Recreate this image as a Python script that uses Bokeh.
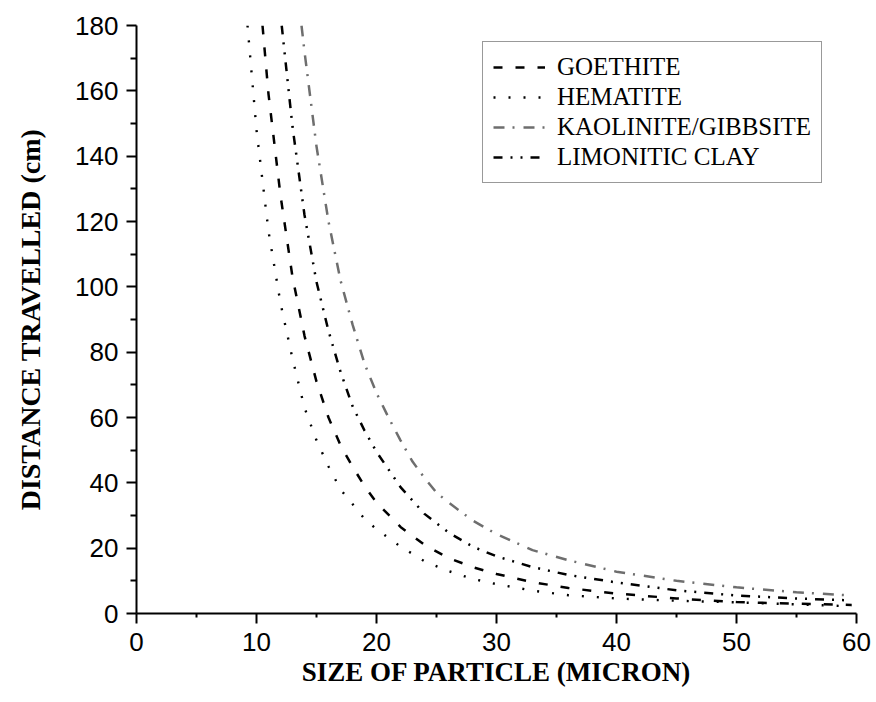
from bokeh.plotting import figure
from bokeh.models import FixedTicker, Legend, LegendItem
from bokeh.embed import file_html
from bokeh.resources import INLINE

# ---- data ----
goethite_x = [10.5, 11, 12, 13, 14, 15, 16, 17, 18, 19, 20, 22, 24, 26, 28, 30, 33, 36, 40, 45, 50, 55, 59.6]
goethite_y = [180, 159, 128, 103, 85, 71, 60, 51.5, 45, 39, 34, 26.5, 21, 17, 14.2, 12.1, 9.6, 7.8, 6.1, 4.6, 3.5, 3.0, 2.6]

hematite_x = [9.25, 10, 11, 12, 13, 14, 15, 16, 17, 18, 19, 20, 22, 24, 26, 28, 30, 33, 36, 40, 45, 50, 55, 59.6]
hematite_y = [180, 148, 117, 95, 78, 63, 53, 45, 38, 33.5, 29, 25.8, 20.5, 16, 13, 10.6, 9.0, 7.0, 5.6, 4.6, 3.9, 3.4, 2.8, 2.2]

kaolinite_x = [13.75, 14, 15, 16, 17, 18, 19, 20, 21, 22, 23, 24, 25, 26, 28, 30, 33, 36, 40, 45, 50, 55, 59.6]
kaolinite_y = [180, 172, 143, 120, 102, 88.5, 76.5, 67.5, 60, 53, 46.5, 41.5, 37, 34, 28.5, 24.3, 19.4, 16.3, 12.8, 10.0, 8.0, 6.5, 5.5]

limonitic_x = [12.1, 13, 14, 15, 16, 17, 18, 19, 20, 22, 24, 26, 28, 30, 33, 36, 40, 45, 50, 55, 59.6]
limonitic_y = [180, 149, 122, 101.5, 86.5, 74, 63.5, 56, 49.5, 38.7, 30.5, 24.8, 20.5, 17.5, 14.2, 11.8, 9.5, 7.1, 5.5, 4.6, 4.0]

series_names = ["GOETHITE", "HEMATITE", "KAOLINITE/GIBBSITE", "LIMONITIC CLAY"]
x_ticks = [0, 10, 20, 30, 40, 50, 60]
y_ticks = [0, 20, 40, 60, 80, 100, 120, 140, 160, 180]
x_minor = [5, 15, 25, 35, 45, 55]
y_minor = [10, 30, 50, 70, 90, 110, 130, 150, 170]

p = figure(width=876, height=702, output_backend="svg", toolbar_location=None,
           x_range=(0, 60), y_range=(0, 180),
           min_border_left=136, min_border_right=20, min_border_top=25, min_border_bottom=89,
           x_axis_label="SIZE OF PARTICLE (MICRON)", y_axis_label="DISTANCE TRAVELLED (cm)")
p.outline_line_color = None
p.grid.visible = False

for ax, ticks, minor in ((p.xaxis[0], x_ticks, x_minor), (p.yaxis[0], y_ticks, y_minor)):
    ax.ticker = FixedTicker(ticks=ticks, minor_ticks=minor)
    ax.axis_line_width = 2
    ax.axis_line_color = "black"
    ax.major_tick_line_width = 2
    ax.major_tick_line_color = "black"
    ax.minor_tick_line_width = 2
    ax.minor_tick_line_color = "black"
    ax.major_tick_out = 10
    ax.major_tick_in = 0
    ax.minor_tick_in = 0
    ax.major_label_text_font = "Liberation Sans"
    ax.major_label_text_font_size = "26px"
    ax.major_label_text_color = "black"
    ax.axis_label_text_font = "Liberation Serif"
    ax.axis_label_text_font_style = "bold"
    ax.axis_label_text_color = "black"

p.xaxis.minor_tick_out = 4
p.yaxis.minor_tick_out = 6
p.xaxis.major_label_standoff = 9
p.yaxis.major_label_standoff = 8
p.xaxis.axis_label_text_font_size = "27px"
p.yaxis.axis_label_text_font_size = "28px"
p.xaxis.axis_label_standoff = 3
p.yaxis.axis_label_standoff = 26

r_g = p.line(goethite_x, goethite_y, line_color="black", line_width=2.5, line_dash="9 13")
r_h = p.line(hematite_x, hematite_y, line_color="black", line_width=2.4, line_dash="2 13")
r_k = p.line(kaolinite_x, kaolinite_y, line_color="#6e6e6e", line_width=2.5, line_dash="11 8 2 9")
r_l = p.line(limonitic_x, limonitic_y, line_color="black", line_width=2.5, line_dash="9 8 2 8 2 8")

legend = Legend(items=[LegendItem(label=n, renderers=[r]) for n, r in zip(series_names, [r_g, r_h, r_k, r_l])],
                location=(346, 430), padding=10, spacing=0, margin=0,
                glyph_width=52, glyph_height=30, label_height=30, label_standoff=12,
                label_text_font="Liberation Serif", label_text_font_size="25px",
                label_text_color="black",
                border_line_color="#333333", border_line_width=1.5,
                background_fill_alpha=0)
p.add_layout(legend)

open("out.html", "w").write(file_html(p, INLINE))
